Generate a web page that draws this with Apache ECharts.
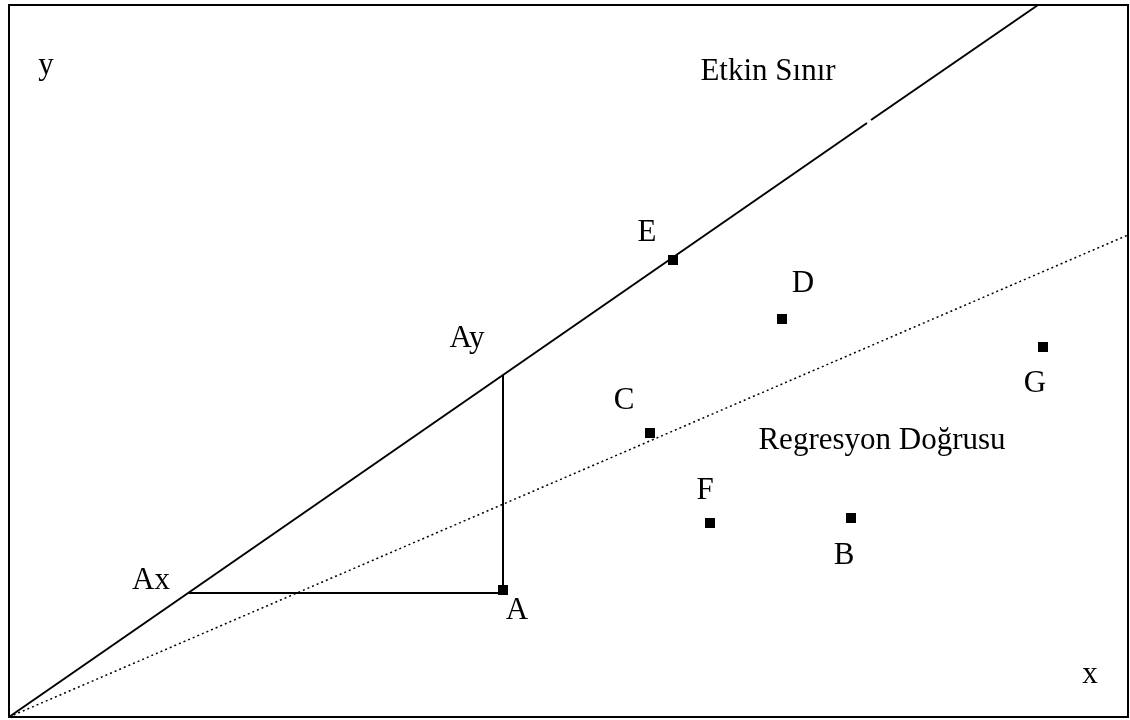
<!DOCTYPE html>
<html>
<head>
<meta charset="utf-8">
<script src="https://cdn.jsdelivr.net/npm/echarts@6/dist/echarts.min.js"></script>
<style>
  html, body { margin: 0; padding: 0; background: #fff; }
  #chart { width: 1130px; height: 720px; }
</style>
</head>
<body>
<div id="chart"></div>
<script>
// data units: roughly pixels from the origin (bottom-left corner)
const pointNames = ['A', 'B', 'C', 'D', 'E', 'F', 'G'];
const pointValues = [[494, 127], [842, 199], [641, 284], [773, 398], [664, 457], [701, 194], [1034, 370]];

// efficient frontier (solid), drawn in two pieces with a small break
const frontierLow = [[0, 0], [858, 594]];
const frontierHigh = [[862, 597], [1029, 712]];
// regression line (dotted)
const regressionLine = [[0, 0], [1119, 482]];
// projection of A onto the frontier: Ax -> A -> Ay
const projection = [[179, 124], [494, 124], [494, 342]];

const labelTexts = ['y', 'x', 'Etkin Sınır', 'Regresyon Doğrusu', 'Ax', 'Ay',
  'A', 'B', 'C', 'D', 'E', 'F', 'G'];
const labelAnchors = [[37, 651], [1081, 42], [759, 645], [873, 276], [142, 136], [458, 378],
  [508, 106], [835, 161], [615, 316], [794, 433], [638, 484], [696, 226], [1026, 333]];

const chart = echarts.init(document.getElementById('chart'));
const font = '"Liberation Serif", "Times New Roman", serif';

const lineSeries = (data, type, width) => ({
  type: 'line',
  data,
  symbol: 'none',
  silent: true,
  lineStyle: { color: '#000', width, type },
  z: 2
});

chart.setOption({
  animation: false,
  grid: {
    left: 9, top: 5, width: 1119, height: 712,
    show: true, borderColor: '#000', borderWidth: 2, backgroundColor: '#fff'
  },
  xAxis: { type: 'value', min: 0, max: 1119, show: false },
  yAxis: { type: 'value', min: 0, max: 712, show: false },
  series: [
    lineSeries(frontierLow, 'solid', 2),
    lineSeries(frontierHigh, 'solid', 2),
    lineSeries(projection, 'solid', 2),
    lineSeries(regressionLine, [2, 3], 1.5),
    {
      type: 'scatter',
      data: pointValues.map((v, i) => ({ name: pointNames[i], value: v })),
      symbol: 'rect',
      symbolSize: 10,
      itemStyle: { color: '#000', opacity: 1 },
      z: 5
    },
    {
      type: 'scatter',
      data: labelAnchors.map((v, i) => ({ name: labelTexts[i], value: v })),
      symbolSize: 0,
      silent: true,
      itemStyle: { opacity: 1 },
      label: {
        show: true,
        position: 'inside',
        formatter: p => p.name,
        color: '#000',
        fontFamily: font,
        fontSize: 31
      },
      z: 6
    }
  ]
});
</script>
</body>
</html>
